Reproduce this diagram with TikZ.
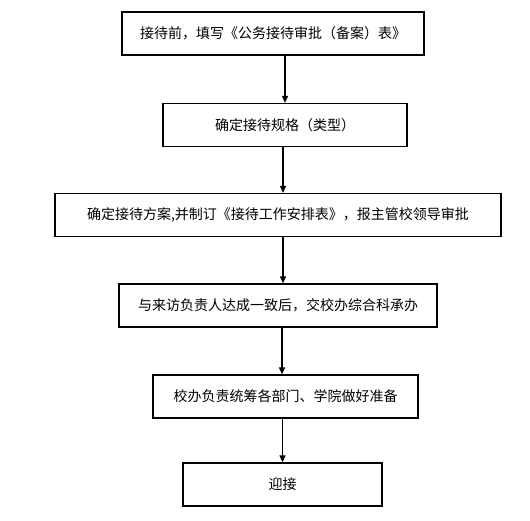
\documentclass[tikz,border=0pt]{standalone}
\usepackage{fontspec}
\newfontfamily\cjk{Noto Sans CJK SC}
\usetikzlibrary{arrows.meta}

\begin{document}
\begin{tikzpicture}[x=1pt,y=-1pt,
  stepbox/.style={draw,line width=1.3pt,minimum height=43pt,inner sep=0pt,font=\cjk\fontsize{14}{16}\selectfont},
  flowarr/.style={line width=1.1pt,-{Triangle[width=6pt,length=7pt]}}]
\useasboundingbox (0,0) rectangle (530,521);

\node[stepbox,minimum width=302pt] (qian) at (273,33.5) {接待前，填写《公务接待审批（备案）表》};
\node[stepbox,minimum width=244pt] (guige) at (285,125) {确定接待规格（类型）};
\node[stepbox,minimum width=446pt] (fangan) at (278,215) {确定接待方案,并制订《接待工作安排表》，报主管校领导审批};
\node[stepbox,minimum width=318pt] (chengban) at (278,305.5) {与来访负责人达成一致后，交校办综合科承办};
\node[stepbox,minimum width=265pt] (zhunbei) at (285.5,396.5) {校办负责统筹各部门、学院做好准备};
\node[stepbox,minimum width=199pt] (yingjie) at (282.5,484.5) {迎接};

\draw[flowarr] (qian.south -| guige.north) -- (guige.north);
\draw[flowarr] ([xshift=-2pt]guige.south) -- ([xshift=-2pt]guige.south |- fangan.north);
\draw[flowarr] ([xshift=5pt]fangan.south) -- ([xshift=5pt]fangan.south |- chengban.north);
\draw[flowarr] ([xshift=4pt]chengban.south) -- ([xshift=4pt]chengban.south |- zhunbei.north);
\draw[flowarr] ([xshift=-3pt]zhunbei.south) -- ([xshift=-3pt]zhunbei.south |- yingjie.north);

\end{tikzpicture}
\end{document}
